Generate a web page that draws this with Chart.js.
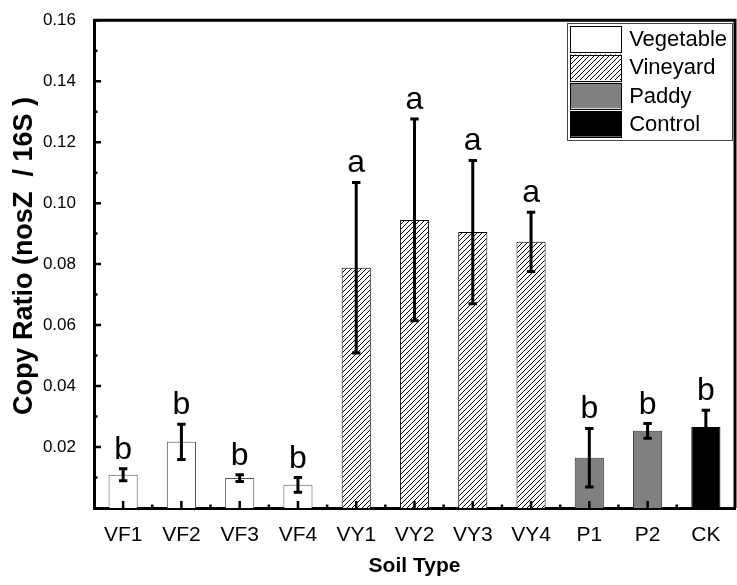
<!DOCTYPE html>
<html><head><meta charset="utf-8">
<script src="https://cdn.jsdelivr.net/npm/chart.js@4/dist/chart.umd.min.js"></script>
<style>html,body{margin:0;padding:0;background:#fff}</style>
</head><body>
<canvas id="c" width="737" height="585"></canvas>
<script>
const categories = ['VF1','VF2','VF3','VF4','VY1','VY2','VY3','VY4','P1','P2','CK'];
const means  = [0.0109,0.0217,0.0098,0.0076,0.0788,0.0945,0.0905,0.0873,0.0165,0.0253,0.0266];
const errors = [0.0020,0.0058,0.0011,0.0024,0.0280,0.0331,0.0235,0.0097,0.0096,0.0024,0.0055];
const letters = ['b','b','b','b','a','a','a','a','b','b','b'];
const groupNames = ['Vegetable','Vineyard','Paddy','Control'];
const groupOf = [0,0,0,0,1,1,1,1,2,2,3];
const yTitle = 'Copy Ratio (nosZ  / 16S )';

const FF = "'Liberation Sans', Arial, Helvetica, sans-serif";

function hatch(){
  const s = 5, c = document.createElement('canvas');
  c.width = s; c.height = s;
  const x = c.getContext('2d');
  x.fillStyle = '#fff'; x.fillRect(0,0,s,s);
  x.strokeStyle = '#000'; x.lineWidth = 1;
  x.beginPath();
  x.moveTo(0,s); x.lineTo(s,0);
  x.moveTo(-1,1); x.lineTo(1,-1);
  x.moveTo(s-1,s+1); x.lineTo(s+1,s-1);
  x.stroke();
  return x.createPattern(c,'repeat');
}
const fills = ['#ffffff', hatch(), '#808080', '#000000'];
const borders = ['#555555', '#000000', '#3a3a3a', '#000000'];

const datasets = groupNames.map((name,g)=>({
  label: name,
  data: means.map((v,i)=> groupOf[i]===g ? v : null),
  backgroundColor: fills[g],
  borderColor: borders[g],
  borderWidth: 1,
  grouped: false,
  barPercentage: 0.5,
  categoryPercentage: 1.0
}));

const decor = {
  id: 'decor',
  afterDatasetsDraw(chart){
    const {ctx, chartArea:a, scales:{x, y}} = chart;
    ctx.save();
    chart.data.datasets.forEach((ds,di)=>{
      const meta = chart.getDatasetMeta(di);
      meta.data.forEach((el,i)=>{
        if (ds.data[i] == null) return;
        const yt = y.getPixelForValue(means[i]+errors[i]);
        const yb = y.getPixelForValue(means[i]-errors[i]);
        const xc = el.x;
        ctx.strokeStyle = '#000'; ctx.lineWidth = 3; ctx.lineCap = 'butt';
        ctx.beginPath();
        ctx.moveTo(xc, yt); ctx.lineTo(xc, yb);
        ctx.moveTo(xc-4.2, yt); ctx.lineTo(xc+4.2, yt);
        ctx.moveTo(xc-4.2, yb); ctx.lineTo(xc+4.2, yb);
        ctx.stroke();
        ctx.fillStyle = '#000';
        ctx.font = '32px ' + FF;
        ctx.textAlign = 'center'; ctx.textBaseline = 'alphabetic';
        ctx.fillText(letters[i], xc, yt - 10);
      });
    });
    ctx.strokeStyle = '#000'; ctx.lineWidth = 3;
    ctx.beginPath();
    ctx.moveTo(a.left, a.top); ctx.lineTo(a.right, a.top); ctx.lineTo(a.right, a.bottom);
    ctx.stroke();
    ctx.lineWidth = 2.5;
    const yt = y.ticks.map(t=>t.value);
    ctx.beginPath();
    yt.forEach((v,k)=>{
      const p = y.getPixelForValue(v);
      if (v > 0) { ctx.moveTo(a.left, p); ctx.lineTo(a.left+7, p); }
      if (k < yt.length-1) {
        const pm = y.getPixelForValue((v + yt[k+1])/2);
        ctx.moveTo(a.left, pm); ctx.lineTo(a.left+3.5, pm);
      }
    });
    categories.forEach((c,i)=>{
      const p = x.getPixelForValue(i);
      ctx.moveTo(p, a.bottom); ctx.lineTo(p, a.bottom-7);
      if (i < categories.length-1) {
        const pm = (p + x.getPixelForValue(i+1))/2;
        ctx.moveTo(pm, a.bottom); ctx.lineTo(pm, a.bottom-3.5);
      }
    });
    ctx.stroke();
    // y axis title
    ctx.save();
    ctx.translate(25, (a.top + a.bottom)/2 - 8);
    ctx.rotate(-Math.PI/2);
    ctx.font = 'bold 27px ' + FF;
    ctx.fillStyle = '#000';
    ctx.textAlign = 'center'; ctx.textBaseline = 'middle';
    ctx.fillText(yTitle, 0, 0);
    ctx.restore();
    // legend
    ctx.font = '22px ' + FF;
    const tw = Math.max(...groupNames.map(n=>ctx.measureText(n).width));
    const sw = 51, sh = 25.5, pitch = 28.3, pad = 3, gap = 8;
    const w = pad + sw + gap + tw + 5;
    const h = pad + groupNames.length*pitch + 1;
    const lx = a.right - 3 - w, ly = a.top + 3;
    ctx.fillStyle = '#fff'; ctx.fillRect(lx, ly, w, h);
    ctx.strokeStyle = '#444'; ctx.lineWidth = 1;
    ctx.strokeRect(Math.round(lx)+0.5, Math.round(ly)+0.5, Math.round(w), Math.round(h));
    groupNames.forEach((n,g)=>{
      const sy = ly + pad + g*pitch;
      ctx.fillStyle = fills[g];
      ctx.fillRect(lx+pad, sy, sw, sh);
      ctx.strokeStyle = '#000'; ctx.lineWidth = 1;
      ctx.strokeRect(Math.round(lx+pad)+0.5, Math.round(sy)+0.5, sw, Math.round(sh));
      ctx.fillStyle = '#000';
      ctx.textAlign = 'left'; ctx.textBaseline = 'middle';
      ctx.fillText(n, lx+pad+sw+gap, sy + sh/2 + 1);
    });
    ctx.restore();
  }
};

new Chart(document.getElementById('c'), {
  type: 'bar',
  data: { labels: categories, datasets },
  options: {
    responsive: false, animation: false, devicePixelRatio: 1,
    layout: { padding: { top: 18, right: 2, left: 0, bottom: 0 } },
    plugins: { legend: { display: false }, tooltip: { enabled: false } },
    scales: {
      x: {
        offset: true,
        grid: { display: false },
        border: { display: true, width: 3, color: '#000' },
        ticks: { font: { family: FF, size: 21 }, color: '#000', padding: 7, maxRotation: 0, autoSkip: false },
        title: { display: true, text: 'Soil Type', color: '#000',
                 font: { family: FF, size: 21, weight: 'bold' }, padding: { top: 0, bottom: 6 } },
        afterFit(s){ s.height = 77; }
      },
      y: {
        min: 0, max: 0.16,
        grid: { display: false },
        border: { display: true, width: 3, color: '#000' },
        ticks: { stepSize: 0.02, font: { family: FF, size: 17 }, color: '#000', padding: 10,
                 callback: v => v < 1e-9 ? '' : v.toFixed(2) },
        title: { display: false },
        afterFit(s){ s.width = 94; }
      }
    }
  },
  plugins: [decor]
});
</script>
</body></html>
